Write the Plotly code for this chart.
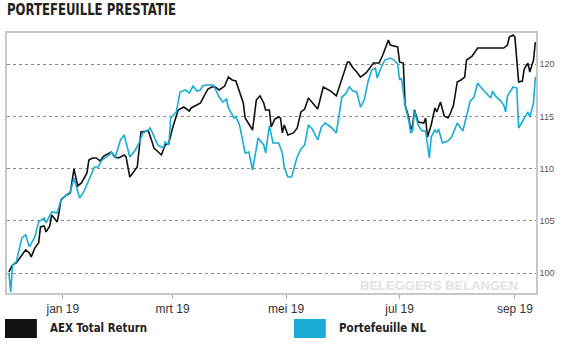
import plotly.graph_objects as go

title_text = "PORTEFEUILLE PRESTATIE"
series_names = ["AEX Total Return", "Portefeuille NL"]
tick_dates = ["2019-01-01", "2019-03-01", "2019-05-01", "2019-07-01", "2019-09-01"]
tick_labels = ["jan 19", "mrt 19", "mei 19", "jul 19", "sep 19"]
y_ticks = [100, 105, 110, 115, 120]

aex_dates = [
    "2018-12-03", "2018-12-05", "2018-12-07", "2018-12-10", "2018-12-12", "2018-12-14", "2018-12-15",
    "2018-12-17", "2018-12-19", "2018-12-20", "2018-12-22", "2018-12-23", "2018-12-25", "2018-12-26",
    "2018-12-29", "2018-12-30", "2018-12-31", "2019-01-03", "2019-01-05", "2019-01-07", "2019-01-08",
    "2019-01-09", "2019-01-11", "2019-01-14", "2019-01-15", "2019-01-17", "2019-01-19", "2019-01-21",
    "2019-01-23", "2019-01-27", "2019-01-29", "2019-01-31", "2019-02-03", "2019-02-04", "2019-02-06",
    "2019-02-10", "2019-02-12", "2019-02-16", "2019-02-18", "2019-02-19", "2019-02-23", "2019-02-25",
    "2019-02-27", "2019-03-01", "2019-03-04", "2019-03-07", "2019-03-10", "2019-03-11", "2019-03-14",
    "2019-03-16", "2019-03-18", "2019-03-20", "2019-03-22", "2019-03-24", "2019-03-26", "2019-03-29",
    "2019-03-31", "2019-04-02", "2019-04-04", "2019-04-06", "2019-04-08", "2019-04-09", "2019-04-11",
    "2019-04-13", "2019-04-15", "2019-04-17", "2019-04-19", "2019-04-20", "2019-04-22", "2019-04-23",
    "2019-04-25", "2019-04-27", "2019-04-28", "2019-04-29", "2019-04-30", "2019-05-02", "2019-05-05",
    "2019-05-07", "2019-05-09", "2019-05-11", "2019-05-13", "2019-05-15", "2019-05-18", "2019-05-21",
    "2019-05-22", "2019-05-25", "2019-05-28", "2019-05-30", "2019-06-03", "2019-06-04", "2019-06-06",
    "2019-06-08", "2019-06-10", "2019-06-13", "2019-06-15", "2019-06-17", "2019-06-20", "2019-06-22",
    "2019-06-25", "2019-06-26", "2019-06-30", "2019-07-01", "2019-07-03", "2019-07-04", "2019-07-06",
    "2019-07-07", "2019-07-08", "2019-07-09", "2019-07-11", "2019-07-14", "2019-07-15", "2019-07-16",
    "2019-07-18", "2019-07-19", "2019-07-20", "2019-07-21", "2019-07-23", "2019-07-25", "2019-07-27",
    "2019-07-28", "2019-07-30", "2019-08-01", "2019-08-03", "2019-08-05", "2019-08-06", "2019-08-09",
    "2019-08-12", "2019-08-19", "2019-08-26", "2019-08-28", "2019-08-29", "2019-08-31", "2019-09-01",
    "2019-09-03", "2019-09-05", "2019-09-06", "2019-09-08", "2019-09-09", "2019-09-11", "2019-09-12",
]
aex_values = [
    100.12, 100.79, 100.98, 101.75, 102.23, 101.94, 101.56,
    102.42, 102.90, 104.43, 104.53, 103.95, 104.53, 105.58,
    104.91, 105.87, 107.01, 107.49, 107.68, 109.98, 109.21,
    108.35, 108.64, 109.60, 110.84, 111.03, 111.03, 110.75,
    111.22, 111.61, 111.13, 111.03, 111.32, 111.13, 109.21,
    110.17, 113.52, 113.62, 112.56, 111.99, 111.32, 112.28,
    112.47, 113.90, 115.63, 115.91, 115.53, 115.82, 116.10,
    116.30, 116.97, 117.64, 117.83, 117.83, 117.54, 117.92,
    118.78, 118.50, 118.40, 117.35, 116.30, 114.86, 114.29,
    113.71, 116.58, 116.97, 116.30, 115.63, 115.63, 114.00,
    114.77, 114.96, 114.86, 113.43, 114.19, 113.23, 113.43,
    113.90, 115.44, 115.72, 116.77, 116.39, 115.72, 117.83,
    117.73, 117.44, 116.97, 118.02, 120.22, 120.22, 119.65,
    119.26, 118.78, 119.17, 119.65, 120.12, 120.12, 120.89,
    122.33, 121.85, 121.66, 120.22, 120.12, 116.10, 114.86,
    113.71, 114.19, 115.63, 114.48, 114.38, 114.86, 113.04,
    114.19, 114.96, 115.82, 115.44, 116.39, 115.05, 114.86,
    115.15, 116.10, 118.31, 118.50, 118.78, 120.41, 120.79,
    121.56, 121.56, 121.56, 121.85, 122.61, 122.80, 122.61,
    118.31, 118.40, 119.55, 120.12, 119.26, 120.41, 122.13,
]

pf_dates = [
    "2018-12-03", "2018-12-04", "2018-12-05", "2018-12-07", "2018-12-10", "2018-12-12", "2018-12-14",
    "2018-12-17", "2018-12-19", "2018-12-22", "2018-12-23", "2018-12-26", "2018-12-29", "2018-12-31",
    "2019-01-03", "2019-01-05", "2019-01-07", "2019-01-10", "2019-01-12", "2019-01-15", "2019-01-18",
    "2019-01-20", "2019-01-22", "2019-01-26", "2019-01-27", "2019-01-29", "2019-02-01", "2019-02-03",
    "2019-02-06", "2019-02-09", "2019-02-11", "2019-02-13", "2019-02-16", "2019-02-17", "2019-02-19",
    "2019-02-21", "2019-02-24", "2019-02-25", "2019-02-27", "2019-02-28", "2019-03-03", "2019-03-05",
    "2019-03-08", "2019-03-10", "2019-03-12", "2019-03-14", "2019-03-16", "2019-03-17", "2019-03-19",
    "2019-03-23", "2019-03-26", "2019-03-28", "2019-03-30", "2019-03-31", "2019-04-03", "2019-04-04",
    "2019-04-06", "2019-04-08", "2019-04-09", "2019-04-11", "2019-04-13", "2019-04-16", "2019-04-19",
    "2019-04-20", "2019-04-22", "2019-04-24", "2019-04-27", "2019-04-29", "2019-04-30", "2019-05-02",
    "2019-05-04", "2019-05-06", "2019-05-07", "2019-05-09", "2019-05-11", "2019-05-13", "2019-05-15",
    "2019-05-18", "2019-05-20", "2019-05-22", "2019-05-25", "2019-05-28", "2019-05-30", "2019-05-31",
    "2019-06-02", "2019-06-04", "2019-06-06", "2019-06-08", "2019-06-10", "2019-06-12", "2019-06-14",
    "2019-06-16", "2019-06-18", "2019-06-19", "2019-06-21", "2019-06-23", "2019-06-26", "2019-06-28",
    "2019-06-30", "2019-07-01", "2019-07-02", "2019-07-03", "2019-07-04", "2019-07-06", "2019-07-07",
    "2019-07-08", "2019-07-09", "2019-07-11", "2019-07-13", "2019-07-15", "2019-07-16", "2019-07-17",
    "2019-07-18", "2019-07-20", "2019-07-21", "2019-07-22", "2019-07-24", "2019-07-27", "2019-07-29",
    "2019-08-01", "2019-08-04", "2019-08-06", "2019-08-08", "2019-08-10", "2019-08-12", "2019-08-14",
    "2019-08-17", "2019-08-19", "2019-08-20", "2019-08-22", "2019-08-24", "2019-08-26", "2019-08-27",
    "2019-08-28", "2019-08-31", "2019-09-02", "2019-09-03", "2019-09-05", "2019-09-08", "2019-09-09",
    "2019-09-11", "2019-09-12",
]
pf_values = [
    100.03, 98.21, 100.79, 101.08, 103.38, 103.66, 102.52,
    103.47, 104.91, 105.29, 104.81, 105.87, 105.77, 107.01,
    107.49, 107.78, 109.12, 107.20, 107.68, 108.93, 110.17,
    110.17, 110.84, 111.32, 111.61, 111.03, 112.76, 113.23,
    111.13, 111.80, 112.47, 113.43, 113.71, 113.90, 113.04,
    112.28, 111.99, 112.56, 112.28, 114.86, 115.44, 117.35,
    117.54, 117.25, 117.92, 117.44, 117.54, 117.92, 118.02,
    118.02, 116.87, 116.39, 116.68, 115.82, 114.86, 114.96,
    114.19, 112.56, 111.51, 111.61, 109.88, 112.95, 112.28,
    111.51, 114.10, 112.47, 112.47, 111.51, 110.17, 109.21,
    109.21, 110.55, 111.13, 111.89, 112.28, 114.19, 113.81,
    112.76, 114.00, 114.38, 114.00, 113.43, 115.53, 116.87,
    117.16, 117.83, 117.44, 117.35, 115.91, 116.58, 118.31,
    119.45, 119.65, 118.69, 119.65, 120.41, 120.60, 120.41,
    120.03, 118.50, 118.69, 117.54, 116.01, 114.57, 113.43,
    113.62, 115.53, 114.19, 113.62, 113.62, 112.28, 111.03,
    113.04, 113.71, 113.43, 113.81, 112.47, 112.66, 113.04,
    114.38, 113.62, 115.05, 116.49, 116.87, 118.21, 117.73,
    117.16, 116.77, 117.44, 116.87, 116.58, 116.10, 115.44,
    116.97, 117.83, 117.73, 113.90, 114.48, 115.44, 114.96,
    116.30, 118.78,
]

colors = ["#111111", "#19acd6"]
narrow = "Liberation Sans Narrow, Arial Narrow, DejaVu Sans Condensed, sans-serif"

fig = go.Figure()
fig.add_trace(go.Scatter(x=aex_dates, y=aex_values, mode="lines", name=series_names[0],
                         line=dict(color=colors[0], width=1.6), showlegend=False))
fig.add_trace(go.Scatter(x=pf_dates, y=pf_values, mode="lines", name=series_names[1],
                         line=dict(color=colors[1], width=1.6), showlegend=False))

fig.update_layout(
    width=565, height=342,
    margin=dict(l=5, r=29, t=33, b=49),
    paper_bgcolor="white", plot_bgcolor="white",
    showlegend=False,
    xaxis=dict(
        type="date", range=["2018-12-02", "2019-09-12 08:00"],
        tickvals=tick_dates, ticktext=tick_labels,
        ticks="outside", ticklen=4, tickcolor="#aaaaaa", tickwidth=1,
        showgrid=False, showline=True, linecolor="#c8c8c8", linewidth=1.5, mirror=True,
        tickfont=dict(family="Liberation Sans, Arial, sans-serif", size=12, color="#333333"),
        zeroline=False,
    ),
    yaxis=dict(
        range=[98.1, 123.0], side="right", tickvals=y_ticks,
        ticks="", showgrid=True, gridcolor="#8a8a8a", griddash="dot", gridwidth=1,
        showline=True, linecolor="#c8c8c8", linewidth=1.5, mirror=True,
        tickfont=dict(family="Liberation Sans, Arial, sans-serif", size=9, color="#555555"),
        zeroline=False,
    ),
)

# title
fig.add_annotation(text="<b>" + title_text + "</b>", xref="paper", yref="paper",
                   x=-0.0038, y=1.09, xanchor="left", yanchor="middle", showarrow=False,
                   align="left", font=dict(family=narrow, size=16.5, color="#222222"))
# watermark
fig.add_annotation(text="<b>BELEGGERS BELANGEN</b>", xref="paper", yref="paper",
                   x=0.970, y=0.027, xanchor="right", yanchor="middle", showarrow=False,
                   font=dict(family="Liberation Sans, Arial, sans-serif", size=13, color="#e2e2e2"))

# legend swatches and labels
leg_x0 = [-0.0038, 0.5424]
leg_x1 = [0.0565, 0.6026]
leg_tx = [0.0772, 0.6234]
for i in range(2):
    fig.add_shape(type="rect", xref="paper", yref="paper", x0=leg_x0[i], x1=leg_x1[i],
                  y0=-0.1731, y1=-0.1, fillcolor=colors[i], line=dict(width=0))
    fig.add_annotation(text="<b>" + series_names[i] + "</b>", xref="paper", yref="paper",
                       x=leg_tx[i], y=-0.1346, xanchor="left", yanchor="middle", showarrow=False,
                       align="left", font=dict(family=narrow, size=13, color="#222222"))

# condense the narrow-font texts to the widths seen in the reference
post = """
var gd = document.getElementById('{plot_id}');
var widths = {'PORTEFEUILLE PRESTATIE': 169, 'AEX Total Return': 97, 'Portefeuille NL': 87};
gd.querySelectorAll('text.annotation-text').forEach(function(t) {
  var w = widths[t.textContent];
  if (w) { t.setAttribute('textLength', w); t.setAttribute('lengthAdjust', 'spacingAndGlyphs'); }
});
"""
fig.write_html("out.html", post_script=post)
